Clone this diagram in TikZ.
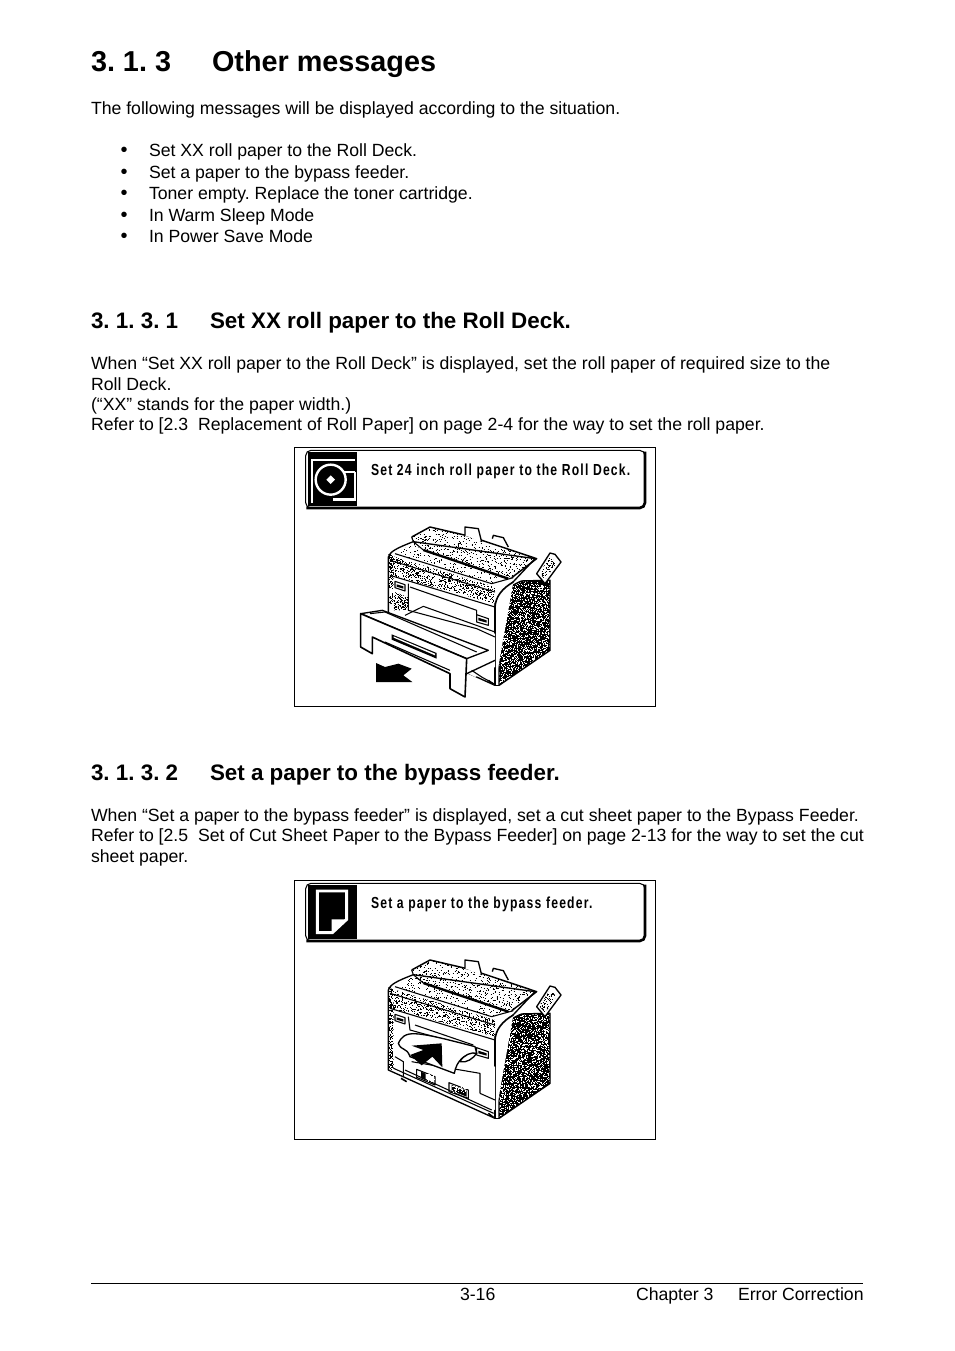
\documentclass[tikz,border=0pt]{standalone}
\usepackage{fontspec}
\setmainfont{Liberation Sans}
\newfontfamily\panelfont[LetterSpace=7.6,FakeStretch=0.76]{Liberation Sans Bold}
\frenchspacing
\tikzset{
    bodytext/.style={inner sep=0pt, outer sep=0pt, anchor=base west, font=\fontsize{13.25pt}{15pt}\selectfont},
    dottext/.style={bodytext, font=\fontsize{15pt}{15pt}\selectfont},
    titletext/.style={bodytext, font=\fontsize{21.6pt}{24pt}\selectfont\bfseries},
    headtext/.style={bodytext, font=\fontsize{16.8pt}{19pt}\selectfont\bfseries},
    paneltext/.style={inner sep=0pt, outer sep=0pt, anchor=base west, font=\fontsize{12pt}{14pt}\panelfont},
    figframe/.style={draw, line width=0.5pt, fill=white},
    ink/.style={draw, line width=1pt, line join=round, fill=white},
    thinink/.style={draw, line width=0.8pt, line join=round}
}
% white or black specks on a grid, in zoomed-up units, 50 to a path
\newcommand{\speckle}[6]{
    \pgfmathtruncatemacro\batches{#6/50}
    \foreach \b in {1,...,\batches}{
        \draw[#1, line width=0.75pt] \foreach \k in {1,...,50}{ ({#2+3*int(rnd*#4/3)},{#3+1.5+3*int(rnd*#5/3)}) -- ++(3,0) };
    }
}
% the parts of the printer that both figures share
\newcommand{\printerbody}{
    \draw[ink] (280,330) .. controls (285,315) and (300,305) .. (355,284) -- (720,335) -- (640,420) -- (600,470) -- (600,715) -- (280,570) -- cycle;
    % lid
    \begin{scope}
        \clip (350,270) -- (405,240) -- (525,268) -- (720,335) -- (650,392) -- (385,309) -- (350,290) -- cycle;
        \speckle{black}{350}{240}{370}{155}{900}
    \end{scope}
    \draw[ink, fill=none, line width=1.1pt] (350,270) -- (405,240) -- (525,268) -- (725,335) -- (650,392);
    \draw[thinink] (350,270) -- (355,284);
    \draw[ink] (510,265) -- (510,240) -- (550,245) -- (560,285);
    \draw[ink] (592,275) -- (595,265) -- (625,272) -- (640,300);
    % sparse top under the lid
    \begin{scope}
        \clip (300,320) -- (355,290) -- (660,392) -- (590,410) -- cycle;
        \speckle{black}{300}{290}{360}{120}{450}
    \end{scope}
    \draw[line width=1.8pt] (385,309) -- (640,395);
    \draw[thinink] (300,320) -- (590,410) -- (655,392);
    \draw[thinink] (355,284) -- (385,309);
    % band under the lid
    \begin{scope}
        \clip (285,325) -- (600,420) -- (600,470) -- (285,385) -- cycle;
        \speckle{black}{285}{325}{315}{145}{1600}
    \end{scope}
    \draw[thinink] (285,340) -- (600,435);
    \draw[thinink] (285,385) -- (600,480);
    % left edge
    \begin{scope}
        \clip (280,320) rectangle (296,480);
        \speckle{black}{280}{320}{16}{160}{150}
    \end{scope}
    \draw[thinink] (300,403) -- (330,413) -- (330,432) -- (300,422) -- cycle;
    \fill (305,412) -- (325,418) -- (325,425) -- (305,419) -- cycle;
    \draw[thinink] (545,503) -- (580,515) -- (580,535) -- (545,525) -- cycle;
    \fill (550,512) -- (575,520) -- (575,527) -- (550,520) -- cycle;
    % side panel
    \begin{scope}
        \clip (612,480) .. controls (615,445) and (635,420) .. (680,402) -- (765,400) -- (765,610) -- (612,715) -- cycle;
        \fill (590,395) rectangle (770,720);
        \speckle{white}{595}{395}{175}{325}{2100}
    \end{scope}
    \draw[thinink, line width=1.1pt] (612,480) .. controls (615,445) and (635,420) .. (680,402) -- (765,400) -- (765,610) -- (612,715) -- cycle;
    \draw[ink, line width=1.2pt] (600,715) -- (600,480) .. controls (602,450) and (620,425) .. (655,405);
    \draw[ink, line width=1.2pt] (600,715) -- (612,715);
    % control box on the right
    \fill (675,415) rectangle (730,470);
    \speckle{white}{675}{415}{55}{55}{100}
    \draw[ink] (725,380) -- (765,318) -- (780,322) -- (798,345) -- (750,410) -- cycle;
    \begin{scope}
        \clip (733,378) -- (765,330) -- (785,348) -- (750,398) -- cycle;
        \speckle{black}{725}{318}{73}{92}{250}
    \end{scope}
    \draw[ink, line width=1.2pt] (580,700) -- (595,712);
}
\newcommand{\panelbox}{
    \draw[figframe] (-1,1) rectangle (1081,778);
    \draw[line width=0.8pt, rounded corners=4pt, fill=white] (32,10) rectangle (1050,183);
    \draw[line width=2pt, rounded corners=4pt] (1050,14) -- (1050,183) -- (34,183);
}
\begin{document}
\begin{tikzpicture}[x=0.75pt, y=-0.75pt]
    \useasboundingbox (0,0) rectangle (954,1351);
    \fill[white] (0,0) rectangle (954,1351);
    \pgfmathsetseed{4711}
    % text of the page
    \node[titletext] (titlenum) at (91,72) {3. 1. 3};
    \node[titletext] (titlename) at (212,72) {Other messages};
    \node[bodytext] (intro) at (91,115) {The following messages will be displayed according to the situation.};
    \foreach \name/\y/\txt in {a/157/Set XX roll paper to the Roll Deck., b/179/Set a paper to the bypass feeder., c/200/Toner empty. Replace the toner cartridge., d/222/In Warm Sleep Mode, e/243/In Power Save Mode}{
        \node[dottext] (dot\name) at (120.5,\y) {•};
        \node[bodytext] (item\name) at (149,\y) {\txt};
    }
    \node[headtext] (headonenum) at (91,329) {3. 1. 3. 1};
    \node[headtext] (headone) at (210,329) {Set XX roll paper to the Roll Deck.};
    \node[bodytext] (paraa) at (91,369) {When “Set XX roll paper to the Roll Deck” is displayed, set the roll paper of required size to the};
    \node[bodytext] (parab) at (91,390) {Roll Deck.};
    \node[bodytext] (parac) at (91,410) {(“XX” stands for the paper width.)};
    \node[bodytext] (parad) at (91,430) {Refer to [2.3\ \ Replacement of Roll Paper] on page 2-4 for the way to set the roll paper.};
    \node[headtext] (headtwonum) at (91,780) {3. 1. 3. 2};
    \node[headtext] (headtwo) at (210,780) {Set a paper to the bypass feeder.};
    \node[bodytext] (parae) at (91,821) {When “Set a paper to the bypass feeder” is displayed, set a cut sheet paper to the Bypass Feeder.};
    \node[bodytext] (paraf) at (91,841) {Refer to [2.5\ \ Set of Cut Sheet Paper to the Bypass Feeder] on page 2-13 for the way to set the cut};
    \node[bodytext] (parag) at (91,862) {sheet paper.};
    % upper figure
    \begin{scope}[shift={(295,447)}, x=0.25pt, y=-0.25pt]
        \panelbox
        \fill (38,14) rectangle (186,176);
        \draw[white, line width=1.8pt] (51,168) -- (51,39) -- (180,39);
        \draw[white, line width=1.6pt] (180,75) -- (145,75);
        \draw[white, line width=1.8pt] (180,75) -- (180,158) -- (115,158);
        \draw[white, line width=1.8pt] (107,98) circle (45);
        \fill[white] (107,85) -- (120,98) -- (107,111) -- (94,98) -- cycle;
        \node[paneltext] (msgroll) at (228,85) {Set 24 inch roll paper to the Roll Deck.};
        \printerbody
        % drawer pulled out of the printer
        \fill[white] (285,470) -- (600,560) -- (600,660) -- (540,690) -- (285,560) -- cycle;
        \begin{scope}
            \clip (296,435) -- (340,450) -- (340,490) -- (296,490) -- cycle;
            \speckle{black}{296}{435}{44}{55}{150}
        \end{scope}
        \draw[thinink] (340,410) -- (340,490) -- (545,545) -- (600,570);
        \draw[thinink] (330,505) -- (385,478) -- (600,555);
        \draw[thinink] (345,420) -- (545,490) -- (545,525);
        \draw[ink] (197,500) -- (262,490) -- (580,610) -- (515,635) -- cycle;
        \draw[thinink] (225,500) -- (270,495) -- (545,615);
        \draw[ink, line width=1.2pt] (197,500) -- (197,600) -- (232,620) -- (232,570) -- (465,680) -- (465,725) -- (510,750) -- (515,635) -- cycle;
        \draw[thinink] (270,585) -- (465,670);
        \fill (290,562) -- (425,618) -- (425,635) -- (290,578) -- cycle;
        \fill[white] (296,568) -- (420,620) -- (420,625) -- (296,572) -- cycle;
        \draw[ink] (515,680) -- (600,640);
        \draw[thinink] (530,670) -- (560,690) -- (600,712);
        \fill (243,648) -- (270,660) -- (310,650) -- (350,665) -- (325,685) -- (352,705) -- (243,705) -- cycle;
    \end{scope}
    % lower figure
    \begin{scope}[shift={(295,880)}, x=0.25pt, y=-0.25pt]
        \panelbox
        \fill (38,14) rectangle (186,176);
        \draw[white, line width=2.2pt] (67,33) -- (155,33) -- (155,118) -- (112,158) -- (67,158) -- cycle;
        \fill[white] (110,118) -- (155,118) -- (110,160) -- cycle;
        \node[paneltext] (msgfeed) at (228,85) {Set a paper to the bypass feeder.};
        \printerbody
        % bypass feeder and sheet of paper
        \fill[white] (296,470) -- (600,560) -- (600,690) -- (330,570) -- (296,560) -- cycle;
        \begin{scope}
            \clip (280,480) rectangle (296,570);
            \speckle{black}{280}{480}{16}{90}{100}
        \end{scope}
        \draw[thinink] (340,410) -- (345,450) -- (545,505);
        \draw[thinink] (360,435) -- (535,495);
        \draw[thinink] (325,590) -- (325,545) -- (300,530);
        \draw[thinink] (330,570) -- (590,690);
        \draw[thinink] (350,545) -- (555,580) -- (555,640);
        \draw[thinink] (555,640) -- (600,660);
        \draw[ink] (310,490) .. controls (330,450) and (350,450) .. (540,500) -- (545,520) .. controls (510,520) and (485,540) .. (478,580) -- (345,530) .. controls (335,500) and (320,515) .. (310,490) -- cycle;
        \draw[ink] (495,545) .. controls (505,525) and (530,515) .. (545,520) .. controls (535,535) and (515,550) .. (495,545) -- cycle;
        \fill (350,497) -- (440,490) -- (442,562) -- (412,530) -- (380,556) -- (345,525) -- (385,510) -- cycle;
        \draw[thinink] (365,568) -- (420,590) -- (420,615) -- (365,592) -- cycle;
        \fill (378,575) -- (392,581) -- (392,600) -- (378,595) -- cycle;
        \speckle{white}{395}{582}{22}{22}{50}
        \draw[thinink] (462,608) -- (520,630) -- (520,655) -- (462,635) -- cycle;
        \fill (470,615) -- (515,632) -- (515,650) -- (470,632) -- cycle;
        \speckle{white}{470}{618}{45}{20}{50}
        \draw[line width=1.2pt] (318,595) -- (335,605);
        \draw[thinink] (296,565) -- (596,700);
    \end{scope}
    % footer
    \coordinate (rulel) at (91,1283.5);
    \coordinate (ruler) at (863,1283.5);
    \draw[line width=0.6pt] (rulel) -- (ruler);
    \node[bodytext] (pagenum) at (460,1300) {3-16};
    \node[bodytext] (chapnum) at (636,1300) {Chapter 3};
    \node[bodytext] (chapname) at (738,1300) {Error Correction};
\end{tikzpicture}
\end{document}
